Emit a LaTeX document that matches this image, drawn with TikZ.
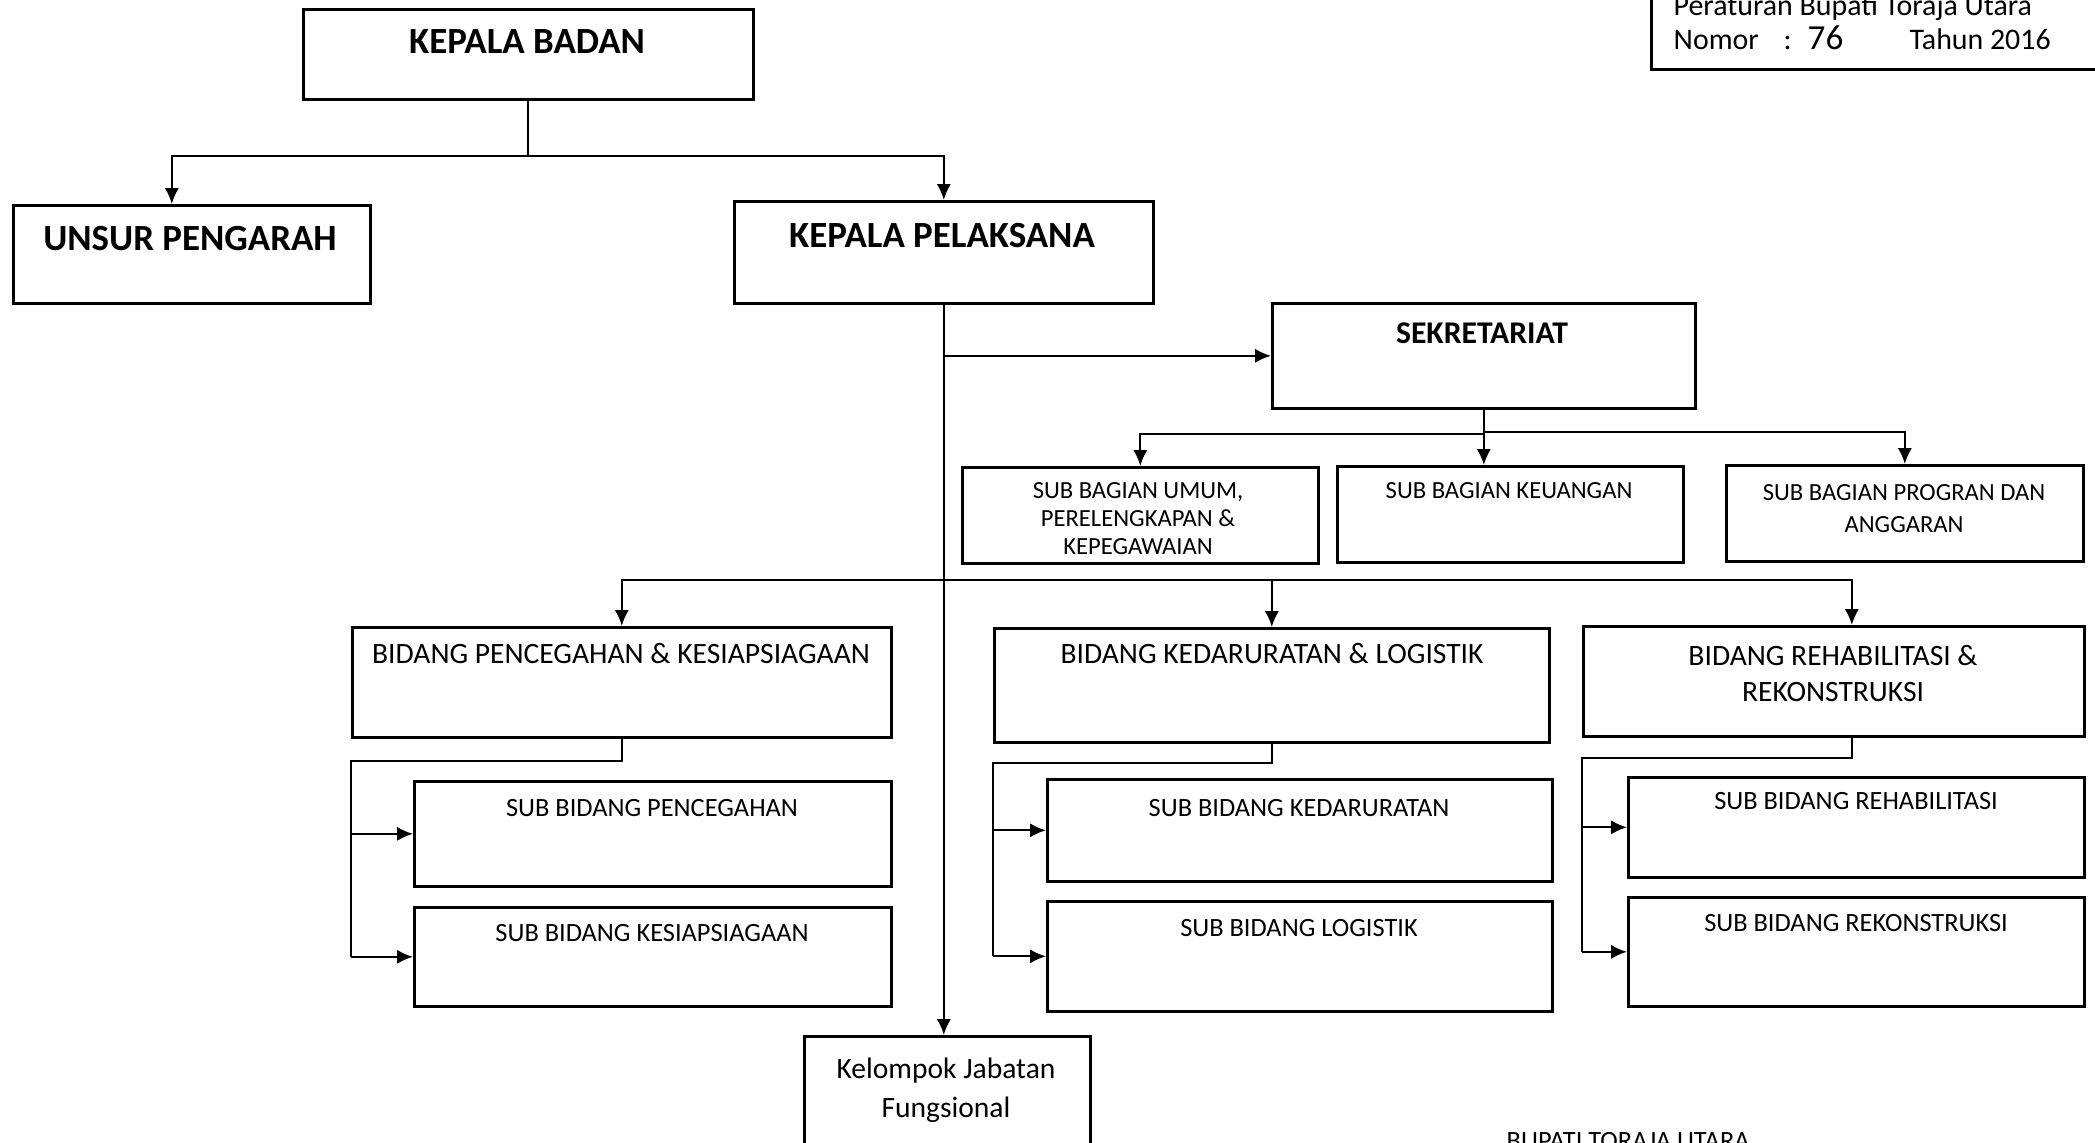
\documentclass[tikz,border=0pt]{standalone}
\usepackage{fontspec}
\setmainfont{Carlito}
\usetikzlibrary{arrows.meta}

\tikzset{
  kotak/.style={draw, line width=0.75pt, anchor=north west, inner sep=0pt},
  garis/.style={line width=0.6pt},
  panah/.style={line width=0.6pt, -{Latex[length=4.5pt,width=4pt]}},
  judul/.style={font=\fontsize{10.5}{12}\selectfont\bfseries, anchor=base, inner sep=0pt},
  kecil/.style={font=\fontsize{7}{8}\selectfont, align=center, anchor=north, inner sep=0pt},
  sedang/.style={font=\fontsize{8.4}{10.2}\selectfont, align=center, anchor=base, inner sep=0pt},
  subbid/.style={font=\fontsize{7.5}{9}\selectfont, anchor=base, inner sep=0pt},
  catatan/.style={font=\fontsize{8.5}{10}\selectfont, anchor=base west, inner sep=0pt}
}

\begin{document}
\begin{tikzpicture}[x=0.01cm, y=-0.01cm]
\useasboundingbox[fill=white] (0,0) rectangle (2095,1142);
% Kotak
\foreach \nama/\x/\y/\w/\h in {kb/302/8/450/90, up/12/204/357/98, kp/733/200/419/102,
    sek/1271/302/423/105, sbumum/961/466/356/96, sbuang/1336/465/346/96, sbprog/1725/464/357/96,
    pb/351/626/539/110, kl/993/627/555/114, rr/1582/625/501/110,
    sbp/413/780/477/105, sbk/413/906/477/99, sbd/1046/778/505/102, sbl/1046/900/505/110,
    sbr/1627/776/456/100, sbs/1627/896/456/109, kjf/803/1035/286/120} {
  \node[kotak, minimum width=\w*0.01cm, minimum height=\h*0.01cm] (\nama) at (\x,\y) {};
}
\node[kotak, anchor=south west, minimum width=4.6cm, minimum height=1cm] (perbup) at (1650,71) {};

% Teks
\node[judul] (tkb) at (527,53) {KEPALA BADAN};
\node[judul] (tup) at (190,250) {UNSUR PENGARAH};
\node[judul] (tkp) at (942,247) {KEPALA PELAKSANA};
\node[judul, font=\fontsize{9}{11}\selectfont\bfseries] (tsek) at (1482,343) {SEKRETARIAT};
\node[kecil] (tsbumum) at (1138,482) {SUB BAGIAN UMUM,\\PERELENGKAPAN \&\\KEPEGAWAIAN};
\node[kecil, anchor=base] (tsbuang) at (1509,498) {SUB BAGIAN KEUANGAN};
\node[kecil, font=\fontsize{7}{9}\selectfont] (tsbprog) at (1904,484) {SUB BAGIAN PROGRAN DAN\\ANGGARAN};
\node[sedang] (tpb) at (621,663) {BIDANG PENCEGAHAN \& KESIAPSIAGAAN};
\node[sedang] (tkl) at (1272,663) {BIDANG KEDARURATAN \& LOGISTIK};
\node[sedang, anchor=north] (trr) at (1833,645) {BIDANG REHABILITASI \&\\REKONSTRUKSI};
\foreach \nama/\x/\y/\teks in {tsbp/652/816/SUB BIDANG PENCEGAHAN, tsbk/652/941/SUB BIDANG KESIAPSIAGAAN,
    tsbd/1299/816/SUB BIDANG KEDARURATAN, tsbl/1299/936/SUB BIDANG LOGISTIK,
    tsbr/1856/809/SUB BIDANG REHABILITASI, tsbs/1856/931/SUB BIDANG REKONSTRUKSI} {
  \node[subbid] (\nama) at (\x,\y) {\teks};
}
\node[sedang, anchor=north, font=\fontsize{8.4}{11.3}\selectfont] (tkjf) at (946,1057) {Kelompok Jabatan\\Fungsional};
\node[catatan] (tperbup) at (1673,15) {Peraturan Bupati Toraja Utara};
\node[catatan] (tnomor) at (1673,49) {Nomor};
\node[catatan] (ttitik) at (1783,49) {:};
\node[catatan, font=\fontsize{10}{12}\selectfont] (tno) at (1807,49) {76};
\node[catatan] (ttahun) at (1909,49) {Tahun 2016};
\node[catatan, font=\fontsize{7.5}{9}\selectfont] (tbupati) at (1506,1149) {BUPATI TORAJA UTARA};

% Garis
\coordinate (upt) at ([xshift=-0.2cm]up.north);
\coordinate (rrt) at ([xshift=0.18cm]rr.north);
\coordinate (bagi) at (0,580);
\draw[panah] (kb.south) |- ([yshift=0.48cm]upt) -- (upt);
\draw[panah] (kb.south) |- ([yshift=0.44cm]kp.north) -- (kp.north);
\draw[panah] (kp.south) -- (kp.south |- kjf.north);
\draw[panah] (kp.south |- sek.west) -- (sek.west);
\draw[panah] (sek.south) |- ([yshift=0.32cm]sbumum.north) -- (sbumum.north);
\draw[panah] (sek.south) |- ([yshift=0.32cm]sbprog.north) -- (sbprog.north);
\draw[panah] (sek.south) -- (sek.south |- sbuang.north);
\draw[panah] (kp.south |- bagi) -| (pb.north);
\draw[panah] (kp.south |- bagi) -| (kl.north);
\draw[panah] (kp.south |- bagi) -| (rrt);
\draw[garis] (pb.south) -- ++(0,22) -| (pb.west |- sbk.west);
\draw[garis] (kl.south) -- ++(0,19) -| (kl.west |- sbl.west);
\draw[garis] ([xshift=0.18cm]rr.south) -- ++(0,20) -| (rr.west |- sbs.west);
\foreach \bid/\sub in {pb/sbp, pb/sbk, kl/sbd, kl/sbl, rr/sbr, rr/sbs} {
  \draw[panah] (\bid.west |- \sub.west) -- (\sub.west);
}
\end{tikzpicture}
\end{document}
